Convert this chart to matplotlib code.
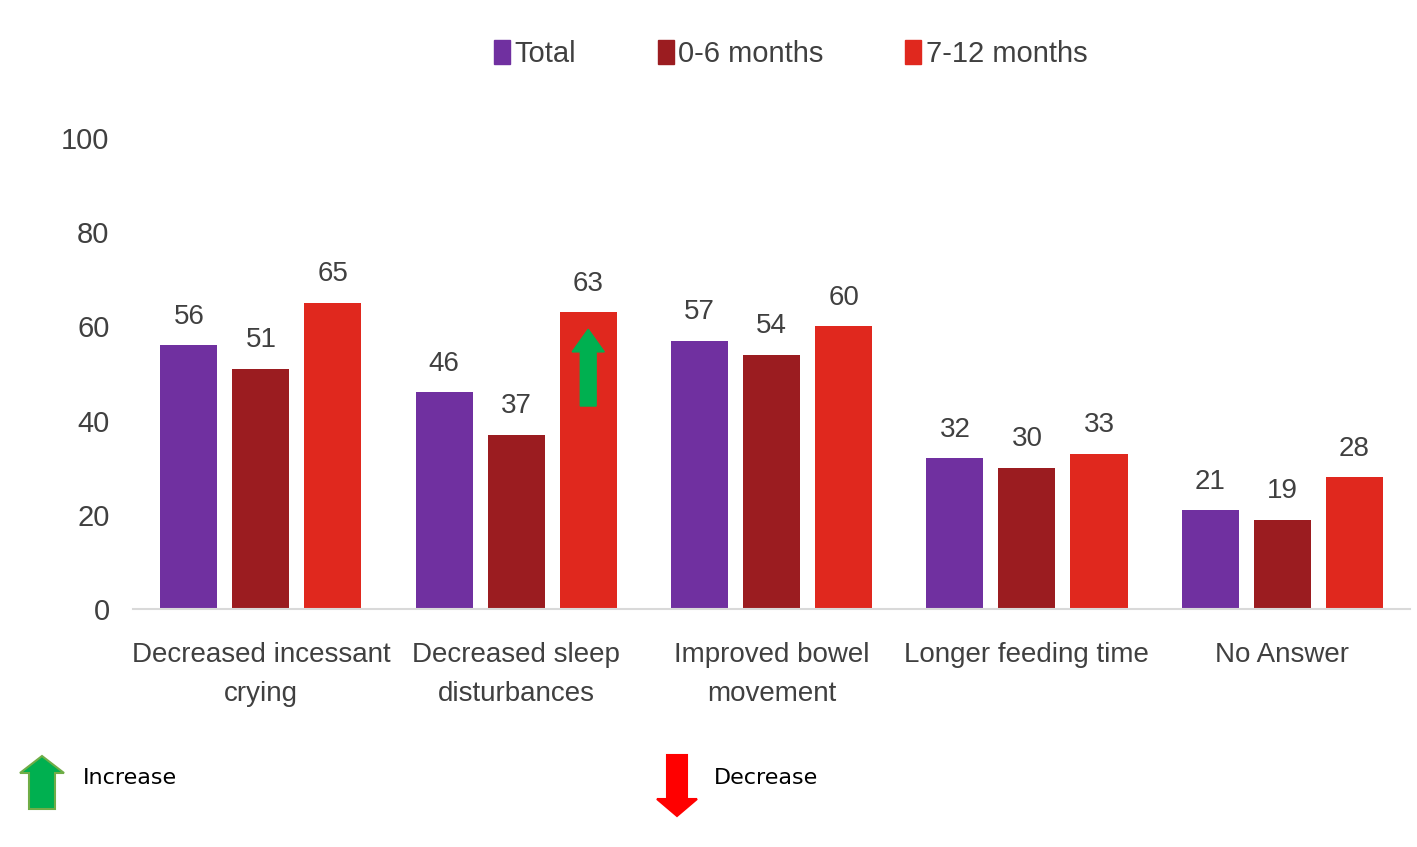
import numpy as np
import matplotlib.pyplot as plt
from matplotlib.patches import Polygon, Patch

categories = ["Decreased incessant\ncrying", "Decreased sleep\ndisturbances",
              "Improved bowel\nmovement", "Longer feeding time", "No Answer"]
series_names = ["Total", "0-6 months", "7-12 months"]
total = [56, 46, 57, 32, 21]
months_0_6 = [51, 37, 54, 30, 19]
months_7_12 = [65, 63, 60, 33, 28]
yticks = [0, 20, 40, 60, 80, 100]

colors = ["#7030A0", "#9B1C20", "#E0281E"]
text_col = "#404040"

plt.rcParams['font.family'] = ['Liberation Sans', 'DejaVu Sans']

fig = plt.figure(figsize=(14.17, 8.47), dpi=100)
ax = fig.add_axes([0.094, 0.281, 0.901, 0.556])

x = np.arange(len(categories))
width = 0.224
step = 0.282
for i, (vals, c) in enumerate(zip([total, months_0_6, months_7_12], colors)):
    pos = x + (i - 1) * step
    ax.bar(pos, vals, width, color=c, label=series_names[i])
    for p, v in zip(pos, vals):
        ax.text(p, v + 3.3, str(v), ha='center', va='bottom', fontsize=20, color=text_col)

ax.set_xlim(-0.5, 4.5)
ax.set_ylim(0, 100)
ax.set_yticks(yticks)
ax.set_xticks(x)
ax.set_xticklabels(categories, fontsize=20, color=text_col, linespacing=1.65)
ax.tick_params(axis='y', labelsize=21, labelcolor=text_col, length=0, pad=17)
ax.tick_params(axis='x', length=0, pad=24)
for s in ['top', 'right', 'left']:
    ax.spines[s].set_visible(False)
ax.spines['bottom'].set_color('#d9d9d9')
ax.spines['bottom'].set_linewidth(1.5)

# green arrow on the 7-12 months bar of "Decreased sleep disturbances"
cx = x[1] + step
hw, sw = 0.063, 0.031
y0, y1, yh = 43.1, 59.4, 54.6
ax.add_patch(Polygon([(cx - sw, y0), (cx + sw, y0), (cx + sw, yh), (cx + hw, yh),
                      (cx, y1), (cx - hw, yh), (cx - sw, yh)],
                     closed=True, color="#00B050", zorder=5))

fig.legend(handles=[Patch(color=c, label=n) for c, n in zip(colors, series_names)],
           loc='center', bbox_to_anchor=(0.558, 0.936), ncol=3, frameon=False,
           fontsize=21, handlelength=0.55, handleheight=0.9, handletextpad=0.15,
           columnspacing=2.8, labelcolor=text_col)

# bottom key arrows, in pixel coords (y from top)
W, H = 1417, 847


def block_arrow(cx, ytail, yhead, shaft, head, headlen, face, edge=None):
    d = 1 if yhead < ytail else -1
    yb = yhead + d * headlen
    pts = [(cx - shaft, ytail), (cx + shaft, ytail), (cx + shaft, yb), (cx + head, yb),
           (cx, yhead), (cx - head, yb), (cx - shaft, yb)]
    pts = [(px / W, 1 - py / H) for px, py in pts]
    fig.patches.append(Polygon(pts, closed=True, transform=fig.transFigure,
                               facecolor=face, edgecolor=edge or face, linewidth=1.5))


block_arrow(42, 809, 756, 13, 22, 17, "#00B050", "#70AD47")
block_arrow(677, 755, 816, 10, 20, 17, "#FF0000")
fig.text(83 / W, 1 - 778 / H, "Increase", fontsize=16, family='DejaVu Sans', va='center', color='black')
fig.text(714 / W, 1 - 778 / H, "Decrease", fontsize=16, family='DejaVu Sans', va='center', color='black')

fig.savefig("out.png", dpi=100)
